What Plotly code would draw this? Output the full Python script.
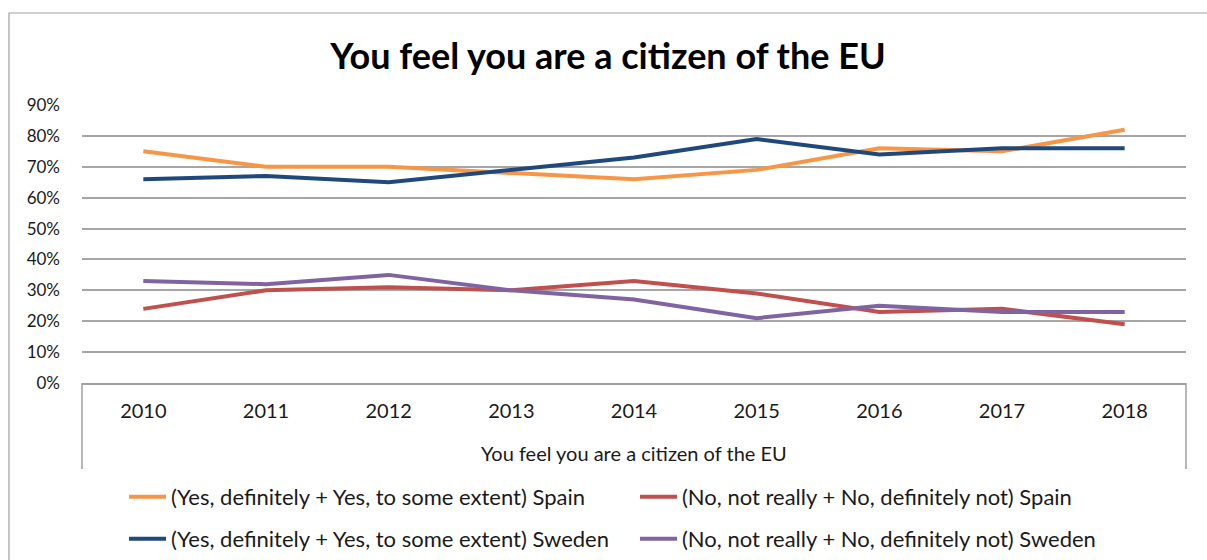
import plotly.graph_objects as go

years = ["2010", "2011", "2012", "2013", "2014", "2015", "2016", "2017", "2018"]
yes_spain = [0.75, 0.70, 0.70, 0.68, 0.66, 0.69, 0.76, 0.75, 0.82]
no_spain = [0.24, 0.30, 0.31, 0.30, 0.33, 0.29, 0.23, 0.24, 0.19]
yes_sweden = [0.66, 0.67, 0.65, 0.69, 0.73, 0.79, 0.74, 0.76, 0.76]
no_sweden = [0.33, 0.32, 0.35, 0.30, 0.27, 0.21, 0.25, 0.23, 0.23]

names = [
    "(Yes, definitely + Yes, to some extent) Spain",
    "(No, not really + No, definitely not) Spain",
    "(Yes, definitely + Yes, to some extent) Sweden",
    "(No, not really + No, definitely not) Sweden",
]
series = [yes_spain, no_spain, yes_sweden, no_sweden]
colors = ["#F79646", "#C0504D", "#1F497D", "#8064A2"]
legends = ["legend", "legend", "legend2", "legend2"]

FONT = "Lato"
W, H = 1207, 560
L, R, T, B = 82, 21, 105, 177
ph = H - T - B

fig = go.Figure()
for name, vals, col, lg in zip(names, series, colors, legends):
    fig.add_trace(go.Scatter(
        x=years, y=vals, mode="lines", name=name,
        line=dict(color=col, width=4), legend=lg,
    ))

def py(px):
    return (H - B - px) / ph

def px_(x):
    return (x - L) / (W - L - R)

shapes = [
    # outer chart border
    dict(type="rect", xref="paper", yref="paper",
         x0=px_(9), x1=px_(1215), y0=py(13), y1=py(600),
         line=dict(color="#a0a0a0", width=1.2), fillcolor="rgba(0,0,0,0)"),
    # category box sides
    dict(type="line", xref="paper", yref="paper", x0=0, x1=0,
         y0=0, y1=py(469), line=dict(color="#a0a0a0", width=1.5)),
    dict(type="line", xref="paper", yref="paper", x0=1, x1=1,
         y0=0, y1=py(469), line=dict(color="#a0a0a0", width=1.5)),
]

legend_common = dict(
    orientation="h", xanchor="left", yanchor="middle",
    x=px_(124), entrywidth=459, entrywidthmode="pixels",
    font=dict(family=FONT, size=22, color="#1a1a1a"),
    bgcolor="rgba(0,0,0,0)", itemwidth=37,
)

fig.update_layout(
    width=W, height=H,
    margin=dict(l=L, r=R, t=T, b=B, autoexpand=False),
    paper_bgcolor="white", plot_bgcolor="white",
    font=dict(family=FONT, size=17, color="#1a1a1a"),
    title=dict(text="<b>You feel you are a citizen of the EU</b>",
               x=608 / W, xref="container", xanchor="center",
               y=1 - 56 / H, yref="container", yanchor="middle",
               font=dict(family=FONT, size=36, color="black")),
    xaxis=dict(type="category", range=[-0.5, 8.5], showgrid=False,
               showline=True, linecolor="#a0a0a0", linewidth=1.5,
               ticks="", ticklabelstandoff=9,
               tickfont=dict(family=FONT, size=20, color="#1a1a1a")),
    yaxis=dict(range=[0, 0.9], dtick=0.1, tickformat=".0%",
               showgrid=True, gridcolor="#a6a6a6", gridwidth=1.5,
               zeroline=False, showline=False, ticks="",
               ticklabelstandoff=21,
               tickfont=dict(family=FONT, size=17, color="#1a1a1a")),
    showlegend=True,
    legend=dict(y=py(497), **legend_common),
    legend2=dict(y=py(539), **legend_common),
    shapes=shapes,
    annotations=[dict(text="You feel you are a citizen of the EU",
                      xref="paper", yref="paper", x=0.5, y=0,
                      xanchor="center", yanchor="middle", yshift=-(453 - 383),
                      showarrow=False,
                      font=dict(family=FONT, size=20, color="#1a1a1a"))],
)

fig.write_html("out.html")
